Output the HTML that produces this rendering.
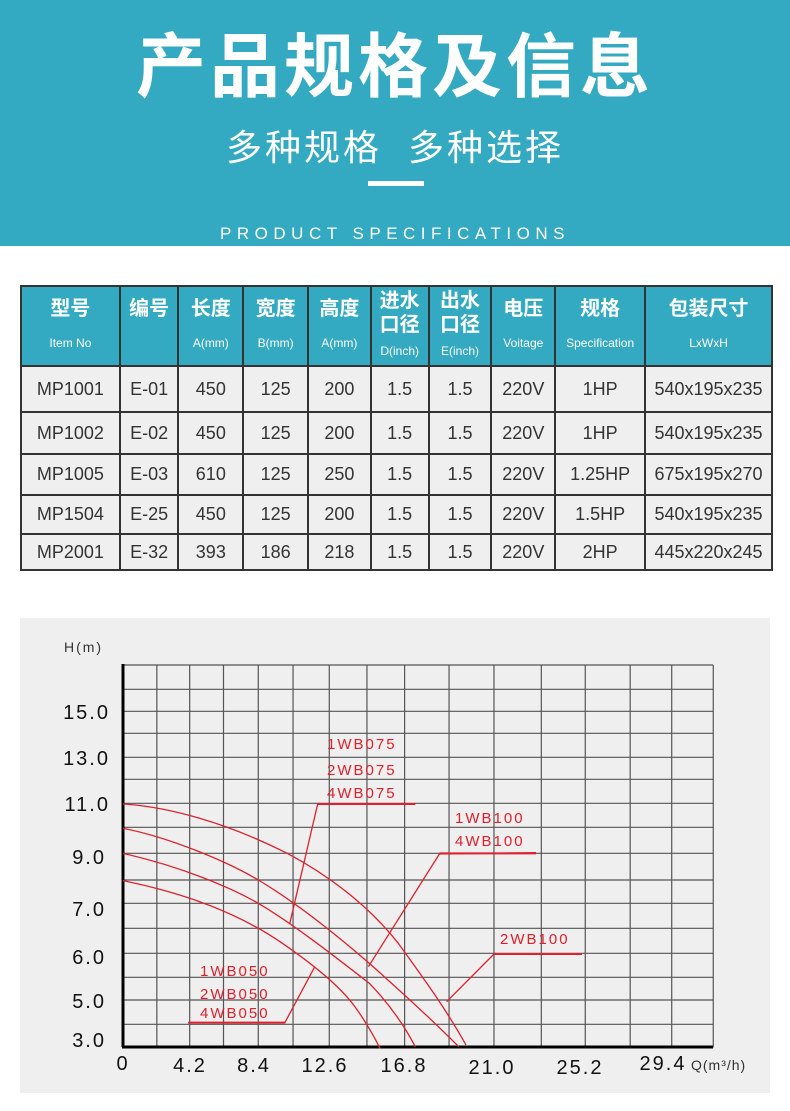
<!DOCTYPE html>
<html><head><meta charset="utf-8"><style>
body{margin:0;width:790px;height:1111px;background:#fff;position:relative;overflow:hidden;font-family:"Liberation Sans","Noto Sans CJK SC",sans-serif}
.hdr{position:absolute;left:0;top:0;width:790px;height:246px;background:#33aac1;color:#fff;text-align:center}
.t1{position:absolute;top:22px;width:100%;font-size:70px;font-weight:bold;letter-spacing:4px;line-height:90px}
.t2{position:absolute;top:124px;width:100%;font-size:36px;letter-spacing:3px;line-height:48px}
.bar{position:absolute;left:368px;top:181px;width:56px;height:5px;background:#fff}
.t3{position:absolute;top:222px;width:100%;font-size:17px;letter-spacing:5.5px;line-height:24px}
table{position:absolute;left:20px;top:285px;border-collapse:collapse;width:753px}
td{border:2px solid #333;text-align:center;font-size:18px;color:#333;background:#efefef;padding:0}
tr.h td{background:#33aac1;color:#fff;font-weight:bold;font-size:20px;height:78px;vertical-align:middle;line-height:24px}
tr.h small{display:block;font-size:12px;font-weight:normal;margin-top:10px}
.chart{position:absolute;left:20px;top:618px;width:750px;height:475px;background:#efefef}
</style></head><body>
<div class="hdr"><div class="t1">产品规格及信息</div><div class="t2">多种规格&nbsp; 多种选择</div><div class="bar"></div><div class="t3">PRODUCT SPECIFICATIONS</div></div>
<table>
<colgroup><col style="width:99px"><col style="width:59px"><col style="width:65px"><col style="width:65px"><col style="width:63px"><col style="width:58px"><col style="width:63px"><col style="width:64px"><col style="width:90px"><col style="width:127px"></colgroup>
<tr class="h"><td>型号<small>Item No</small></td><td>编号<small>&nbsp;</small></td><td>长度<small>A(mm)</small></td><td>宽度<small>B(mm)</small></td><td>高度<small>A(mm)</small></td><td>进水<br>口径<small style="margin-top:2px">D(inch)</small></td><td>出水<br>口径<small style="margin-top:2px">E(inch)</small></td><td>电压<small>Voitage</small></td><td>规格<small>Specification</small></td><td>包装尺寸<small>LxWxH</small></td></tr>
<tr style="height:46px"><td>MP1001</td><td>E-01</td><td>450</td><td>125</td><td>200</td><td>1.5</td><td>1.5</td><td>220V</td><td>1HP</td><td>540x195x235</td></tr>
<tr style="height:42px"><td>MP1002</td><td>E-02</td><td>450</td><td>125</td><td>200</td><td>1.5</td><td>1.5</td><td>220V</td><td>1HP</td><td>540x195x235</td></tr>
<tr style="height:41px"><td>MP1005</td><td>E-03</td><td>610</td><td>125</td><td>250</td><td>1.5</td><td>1.5</td><td>220V</td><td>1.25HP</td><td>675x195x270</td></tr>
<tr style="height:39px"><td>MP1504</td><td>E-25</td><td>450</td><td>125</td><td>200</td><td>1.5</td><td>1.5</td><td>220V</td><td>1.5HP</td><td>540x195x235</td></tr>
<tr style="height:36px"><td>MP2001</td><td>E-32</td><td>393</td><td>186</td><td>218</td><td>1.5</td><td>1.5</td><td>220V</td><td>2HP</td><td>445x220x245</td></tr>
</table>
<div class="chart"></div>
<svg style="position:absolute;left:0;top:0" width="790" height="1111">
<g stroke="#555" stroke-width="1.2" fill="none">
<g transform="matrix(0.483 0 0 0.33333 21.6 620)">
<path vector-effect="non-scaling-stroke" d="M210 135H1432M210 208H1432M210 274H1432M210 340H1432M210 412H1432M210 478H1432M210 550H1432M210 622H1432M210 700H1432M210 780H1432M210 850H1432M210 925H1432M210 1000H1432M210 1072H1432M210 1140H1432M210 1213H1432"/>
<path vector-effect="non-scaling-stroke" d="M280 135V1282M348 135V1282M418 135V1282M490 135V1282M562 135V1282M637 135V1282M715 135V1282M793 135V1282M885 135V1282M978 135V1282M1076 135V1282M1167 135V1282M1260 135V1282M1346 135V1282M1432 135V1282"/>
</g></g>
<line x1="123" y1="664" x2="123" y2="1047" stroke="#000" stroke-width="3"/>
<line x1="122" y1="1047" x2="713" y2="1047" stroke="#000" stroke-width="3"/>
<g transform="matrix(0.483 0 0 0.33333 21.6 620)" stroke="#e0202c" fill="none">
<path vector-effect="non-scaling-stroke" stroke-width="1.3" d="M210 552C300 560 420 605 550 700C640 770 720 860 780 970C830 1070 880 1170 920 1275"/>
<path vector-effect="non-scaling-stroke" stroke-width="1.3" d="M210 625C300 650 420 720 490 780C560 840 640 930 720 1030C790 1120 850 1200 905 1280"/>
<path vector-effect="non-scaling-stroke" stroke-width="1.3" d="M210 700C330 740 430 800 490 850C560 910 640 1000 720 1090C760 1150 790 1210 815 1280"/>
<path vector-effect="non-scaling-stroke" stroke-width="1.3" d="M210 782C340 820 450 880 540 970C600 1030 660 1100 690 1160C710 1200 730 1250 742 1285"/>
<path vector-effect="non-scaling-stroke" stroke-width="1.3" d="M555 912L613 552H815M718 1040L865 702L1065 698M880 1145L978 1002H1160M345 1208H545L607 1040"/>
<path vector-effect="non-scaling-stroke" stroke-width="2" d="M613 552H815M865 700H1065M978 1002H1160M345 1208H545"/>
</g>
<g font-family="Liberation Sans,sans-serif" fill="#e0202c" font-size="15" letter-spacing="2">
<text x="327" y="749">1WB075</text><text x="327" y="775">2WB075</text><text x="327" y="798">4WB075</text>
<text x="455" y="823">1WB100</text><text x="455" y="846">4WB100</text><text x="500" y="944">2WB100</text>
<text x="200" y="976">1WB050</text><text x="200" y="999">2WB050</text><text x="200" y="1018">4WB050</text>
</g>
<g font-family="Liberation Sans,sans-serif" fill="#111" font-size="20" letter-spacing="2" text-anchor="end">
<text x="110" y="719">15.0</text><text x="110" y="765">13.0</text><text x="110" y="811">11.0</text><text x="106" y="864">9.0</text><text x="106" y="916">7.0</text><text x="106" y="964">6.0</text><text x="106" y="1008">5.0</text><text x="106" y="1047">3.0</text>
</g>
<g font-family="Liberation Sans,sans-serif" fill="#111" font-size="20" letter-spacing="2" text-anchor="middle">
<text x="123" y="1070">0</text><text x="190" y="1072">4.2</text><text x="254" y="1072">8.4</text><text x="325" y="1072">12.6</text><text x="404" y="1072">16.8</text><text x="492" y="1074">21.0</text><text x="580" y="1074">25.2</text><text x="663" y="1070">29.4</text>
</g>
<text x="691" y="1070" font-family="Liberation Sans,sans-serif" font-size="14" fill="#333" letter-spacing="1">Q(m³/h)</text>
<text x="64" y="652" font-family="Liberation Sans,sans-serif" font-size="14" fill="#333" letter-spacing="2">H(m)</text>
</svg>
</body></html>
